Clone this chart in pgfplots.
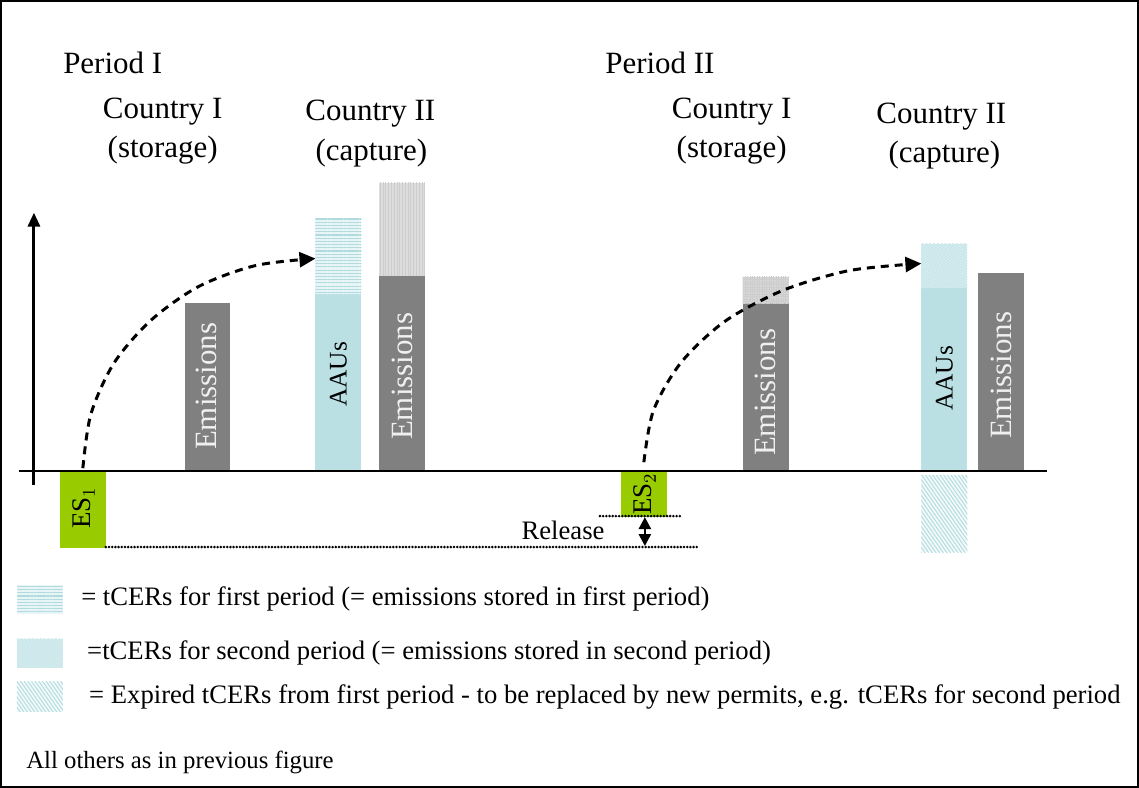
\documentclass[border=0pt]{standalone}
\usepackage{pgfplots}
\pgfplotsset{compat=1.18}
\usepackage{fontspec}
\setmainfont{Liberation Serif}
\usetikzlibrary{arrows.meta,patterns.meta}
\definecolor{esgreen}{RGB}{153,204,0}
\definecolor{emgray}{RGB}{128,128,128}
\definecolor{aaublue}{RGB}{186,224,227}
\definecolor{tcerA}{RGB}{232,245,246}
\definecolor{tcerAline}{RGB}{176,218,222}
\definecolor{tcerB}{RGB}{214,237,240}
\definecolor{tcerBline}{RGB}{196,228,232}
\definecolor{tcerC}{RGB}{244,250,250}
\definecolor{tcerCline}{RGB}{178,220,225}
\definecolor{lgray}{RGB}{220,220,220}
\definecolor{lgrayline}{RGB}{205,205,205}
\definecolor{chk}{RGB}{215,215,215}
\newcommand{\hdfont}{\fontsize{15.5}{18}\selectfont}
\newcommand{\lgfont}{\fontsize{13.35}{16}\selectfont}
\begin{document}
\begin{tikzpicture}
\begin{axis}[
  width=569.5pt, height=393.5pt, scale only axis,
  xmin=0, xmax=1139, ymin=0, ymax=787,
  xtick=\empty, ytick=\empty,
  axis line style={line width=1pt},
  clip=false]
% ---------- bars ----------
% ES1
\addplot[draw=none, fill=esgreen] coordinates {(59,316) (105,316) (105,239) (59,239)} -- cycle;
% Emissions P1 C1
\addplot[draw=none, fill=emgray] coordinates {(184,316) (229,316) (229,484) (184,484)} -- cycle;
% AAUs P1 C2
\addplot[draw=none, fill=aaublue] coordinates {(315,316) (361,316) (361,493) (315,493)} -- cycle;
\addplot[draw=none, fill=tcerA] coordinates {(315,493) (361,493) (361,569) (315,569)} -- cycle;
\addplot[draw=none, pattern={Lines[angle=0,distance=1.6pt,line width=0.55pt]}, pattern color=tcerAline] coordinates {(315,493) (361,493) (361,569) (315,569)} -- cycle;
% Emissions P1 C2
\addplot[draw=none, fill=emgray] coordinates {(379,316) (425,316) (425,512) (379,512)} -- cycle;
\addplot[draw=none, fill=lgray] coordinates {(379,512) (425,512) (425,605) (379,605)} -- cycle;
\addplot[draw=none, pattern={Lines[angle=90,distance=1.4pt,line width=0.4pt]}, pattern color=lgrayline] coordinates {(379,512) (425,512) (425,605) (379,605)} -- cycle;
% ES2
\addplot[draw=none, fill=esgreen] coordinates {(621,316) (667,316) (667,270) (621,270)} -- cycle;
% Emissions P2 C1
\addplot[draw=none, fill=emgray] coordinates {(743,316) (789,316) (789,484) (743,484)} -- cycle;
\addplot[draw=none, fill=chk] coordinates {(743,484) (789,484) (789,511) (743,511)} -- cycle;
\addplot[draw=none, pattern={Hatch[angle=0,distance=1.2pt,line width=0.35pt]}, pattern color=lgrayline] coordinates {(743,484) (789,484) (789,511) (743,511)} -- cycle;
% AAUs P2 C2
\addplot[draw=none, fill=aaublue] coordinates {(922,316) (968,316) (968,499) (922,499)} -- cycle;
\addplot[draw=none, fill=tcerB] coordinates {(922,499) (968,499) (968,544) (922,544)} -- cycle;
\addplot[draw=none, pattern={Lines[angle=35,distance=1.1pt,line width=0.35pt]}, pattern color=tcerBline] coordinates {(922,499) (968,499) (968,544) (922,544)} -- cycle;
\addplot[draw=none, fill=tcerC] coordinates {(922,312) (968,312) (968,235) (922,235)} -- cycle;
\addplot[draw=none, pattern={Lines[angle=-55,distance=1.5pt,line width=0.5pt]}, pattern color=tcerCline] coordinates {(922,312) (968,312) (968,235) (922,235)} -- cycle;
% Emissions P2 C2
\addplot[draw=none, fill=emgray] coordinates {(979,316) (1025,316) (1025,515) (979,515)} -- cycle;
% ---------- axes of the diagram ----------
\addplot[line width=1.2pt] coordinates {(18,316) (1048,316)};
\addplot[line width=1.5pt, -{Triangle[length=7pt,width=6pt]}] coordinates {(33,302) (33,575)};
% ---------- dashed arcs ----------
\addplot[line width=1.5pt, dash pattern=on 4pt off 3pt, smooth, -{Triangle[length=8pt,width=7.5pt]}]
  coordinates {(82,319) (90,373) (113,424) (150,467) (198,501) (255,522) (315,529)};
\addplot[line width=1.5pt, dash pattern=on 4pt off 3pt, smooth, -{Triangle[length=8pt,width=7.5pt]}]
  coordinates {(644,325) (653.5,376.5) (681,424.5) (725,466) (783,497) (850,517) (922,524)};
% ---------- dotted release lines ----------
\addplot[line width=1.4pt, line cap=round, dash pattern=on 0pt off 1.6pt] coordinates {(105,240) (697,240)};
\addplot[line width=1.4pt, line cap=round, dash pattern=on 0pt off 1.6pt] coordinates {(600,271) (682,271)};
\addplot[line width=1.3pt, {Triangle[length=6pt,width=6pt]}-{Triangle[length=6pt,width=6pt]}] coordinates {(645,270) (645,241)};
% ---------- texts ----------
\node[anchor=base west, inner sep=0pt, font=\hdfont] at (axis cs:62,714) {Period I};
\node[anchor=base, inner sep=0pt, font=\hdfont] at (axis cs:162,669) {Country I};
\node[anchor=base, inner sep=0pt, font=\hdfont] at (axis cs:162,630) {(storage)};
\node[anchor=base, inner sep=0pt, font=\hdfont] at (axis cs:370,667) {Country II};
\node[anchor=base, inner sep=0pt, font=\hdfont] at (axis cs:371,627) {(capture)};
\node[anchor=base west, inner sep=0pt, font=\hdfont] at (axis cs:605,714) {Period II};
\node[anchor=base, inner sep=0pt, font=\hdfont] at (axis cs:732,669) {Country I};
\node[anchor=base, inner sep=0pt, font=\hdfont] at (axis cs:732,630) {(storage)};
\node[anchor=base, inner sep=0pt, font=\hdfont] at (axis cs:942,664) {Country II};
\node[anchor=base, inner sep=0pt, font=\hdfont] at (axis cs:945,625) {(capture)};
% bar labels
\node[rotate=90, inner sep=0pt, font=\hdfont, text=gray!12] at (axis cs:206,401) {Emissions};
\node[rotate=90, inner sep=0pt, font=\fontsize{12.7}{15}\selectfont] at (axis cs:338,413) {AAUs};
\node[rotate=90, inner sep=0pt, font=\hdfont, text=gray!12] at (axis cs:402,411) {Emissions};
\node[rotate=90, inner sep=0pt, font=\hdfont, text=gray!12] at (axis cs:766,395) {Emissions};
\node[rotate=90, inner sep=0pt, font=\fontsize{12.7}{15}\selectfont] at (axis cs:945,409) {AAUs};
\node[rotate=90, inner sep=0pt, font=\hdfont, text=gray!12] at (axis cs:1002,412) {Emissions};
\node[rotate=90, inner sep=0pt, font=\fontsize{13.5}{16}\selectfont] at (axis cs:83,279) {ES$_1$};
\node[rotate=90, inner sep=0pt, font=\fontsize{13.5}{16}\selectfont] at (axis cs:645,293) {ES$_2$};
\node[inner sep=0pt, font=\lgfont] at (axis cs:563,257) {Release};
% ---------- legend ----------
\addplot[draw=none, fill=tcerA] coordinates {(16,202) (62,202) (62,173) (16,173)} -- cycle;
\addplot[draw=none, pattern={Lines[angle=0,distance=1.6pt,line width=0.55pt]}, pattern color=tcerAline] coordinates {(16,202) (62,202) (62,173) (16,173)} -- cycle;
\addplot[draw=none, fill=tcerB] coordinates {(16,148) (62,148) (62,119) (16,119)} -- cycle;
\addplot[draw=none, pattern={Lines[angle=35,distance=1.1pt,line width=0.35pt]}, pattern color=tcerBline] coordinates {(16,148) (62,148) (62,119) (16,119)} -- cycle;
\addplot[draw=none, fill=tcerC] coordinates {(16,105) (62,105) (62,75) (16,75)} -- cycle;
\addplot[draw=none, pattern={Lines[angle=-55,distance=1.5pt,line width=0.5pt]}, pattern color=tcerCline] coordinates {(16,105) (62,105) (62,75) (16,75)} -- cycle;
\node[anchor=west, inner sep=0pt, font=\lgfont] at (axis cs:80,188) {= tCERs for first period (= emissions stored in first period)};
\node[anchor=west, inner sep=0pt, font=\lgfont] at (axis cs:86,134) {=tCERs for second period (= emissions stored in second period)};
\node[anchor=west, inner sep=0pt, font=\lgfont] at (axis cs:88,90) {= Expired tCERs from first period - to be replaced by new permits, e.g. tCERs for second period};
\node[anchor=west, inner sep=0pt, font=\fontsize{12.4}{15}\selectfont] at (axis cs:25,24) {All others as in previous figure};
\end{axis}
\end{tikzpicture}
\end{document}
